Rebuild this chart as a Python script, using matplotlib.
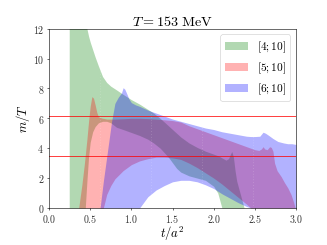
import numpy as np
import matplotlib
matplotlib.use("Agg")
import matplotlib.pyplot as plt

plt.rcParams['font.family'] = 'serif'
plt.rcParams['font.serif'] = ['cmr10', 'DejaVu Serif']
plt.rcParams['mathtext.fontset'] = 'cm'
plt.rcParams['axes.formatter.use_mathtext'] = True

# ---------------------------------------------------------------------------
# band [4;10] (green)
# ---------------------------------------------------------------------------
t_g = [0.245, 0.40, 0.44, 0.46, 0.48, 0.50, 0.53, 0.56, 0.60, 0.65, 0.70,
       0.75, 0.82, 0.90, 1.00, 1.10, 1.20, 1.27, 1.35, 1.45, 1.55, 1.60,
       1.70, 1.80, 1.90, 2.00, 2.05, 2.08, 2.10, 2.15, 2.18, 2.20, 2.22,
       2.24, 2.26, 2.28, 2.31, 2.34, 2.37]
hi_g = [14.0, 14.0, 12.6, 12.0, 11.5, 11.1, 10.6, 10.1, 9.5, 8.8, 8.4,
        8.15, 7.9, 7.6, 7.25, 6.95, 6.6, 6.35, 6.0, 5.5, 5.0, 4.75,
        4.35, 4.05, 3.8, 3.6, 3.5, 3.42, 3.35, 3.2, 3.3, 3.55, 3.78,
        3.4, 2.5, 1.8, 1.2, 0.6, 0.0]
lo_g = [0.0, 0.0, 0.0, 1.8, 3.4, 4.4, 5.1, 5.45, 5.7, 5.8, 5.8,
        5.7, 5.4, 5.25, 5.05, 4.85, 4.6, 4.35, 4.0, 3.4, 2.65, 2.4,
        2.15, 2.0, 1.85, 1.45, 1.0, 0.4, 0.0, 0.0, 0.0, 0.0, 0.0,
        0.0, 0.0, 0.0, 0.0, 0.0, 0.0]

# ---------------------------------------------------------------------------
# band [5;10] (red)
# ---------------------------------------------------------------------------
t_r = [0.36, 0.40, 0.43, 0.46, 0.48, 0.50, 0.52, 0.54, 0.56, 0.58, 0.60,
       0.65, 0.66, 0.70, 0.75, 0.80, 0.90, 1.00, 1.10, 1.20, 1.30, 1.40,
       1.50, 1.60, 1.70, 1.80, 1.90, 2.00, 2.10, 2.20, 2.30, 2.40, 2.45,
       2.50, 2.55, 2.58, 2.60, 2.62, 2.65, 2.68, 2.70, 2.72, 2.74, 2.77,
       2.82, 2.86, 2.90, 2.94, 2.97, 2.99]
hi_r = [0.0, 1.6, 3.0, 4.6, 5.8, 6.8, 7.45, 7.35, 6.9, 6.4, 6.1,
        6.0, 6.0, 5.95, 5.95, 5.95, 5.97, 6.0, 6.0, 5.98, 5.95, 5.9,
        5.85, 5.75, 5.5, 5.3, 5.1, 4.9, 4.7, 4.5, 4.3, 4.1, 4.0,
        3.9, 3.85, 3.95, 4.1, 3.95, 3.9, 4.1, 4.05, 3.8, 3.0, 2.5,
        2.1, 1.7, 1.35, 0.9, 0.4, 0.0]
lo_r = [0.0, 0.0, 0.0, 0.0, 0.0, 0.0, 0.0, 0.0, 0.0, 0.0, 0.0,
        0.0, 0.0, 0.9, 1.5, 1.95, 2.5, 2.9, 3.15, 3.3, 3.4, 3.4,
        3.35, 3.25, 3.0, 2.7, 2.35, 2.0, 1.6, 1.15, 0.7, 0.25, 0.0,
        0.0, 0.0, 0.0, 0.0, 0.0, 0.0, 0.0, 0.0, 0.0, 0.0, 0.0,
        0.0, 0.0, 0.0, 0.0, 0.0, 0.0]

# ---------------------------------------------------------------------------
# band [6;10] (blue)
# ---------------------------------------------------------------------------
t_b = [0.62, 0.66, 0.70, 0.73, 0.76, 0.80, 0.84, 0.88, 0.90, 0.92, 0.94,
       0.97, 1.00, 1.05, 1.10, 1.20, 1.30, 1.40, 1.50, 1.60, 1.70, 1.80,
       1.90, 2.00, 2.10, 2.20, 2.30, 2.40, 2.45, 2.50, 2.56, 2.60, 2.63,
       2.67, 2.72, 2.78, 2.85, 2.90, 2.95, 3.00]
hi_b = [0.0, 1.8, 3.4, 4.6, 5.8, 7.0, 7.4, 7.7, 8.05, 7.95, 7.7,
        7.3, 7.05, 6.9, 6.8, 6.55, 6.35, 6.15, 5.95, 5.8, 5.65, 5.5,
        5.35, 5.25, 5.1, 5.0, 4.9, 4.8, 4.78, 4.78, 4.8, 5.07, 5.0,
        4.85, 4.65, 4.45, 4.35, 4.3, 4.3, 4.25]
lo_b = [0.0, 0.0, 0.0, 0.0, 0.0, 0.0, 0.0, 0.0, 0.0, 0.0, 0.0,
        0.0, 0.0, 0.0, 0.0, 0.75, 1.2, 1.5, 1.75, 1.85, 1.85, 1.75,
        1.55, 1.3, 0.95, 0.65, 0.35, 0.1, 0.0, 0.0, 0.0, 0.0, 0.0,
        0.0, 0.0, 0.0, 0.0, 0.0, 0.0, 0.0]

labels = ['$[4;10]$', '$[5;10]$', '$[6;10]$']
colors = ['g', 'r', 'b']

ref_levels = [6.15, 3.48]
flow_marks = [0.615, 1.235, 1.855, 2.48]

fig = plt.figure(figsize=(6.4, 4.8), dpi=51.1)
ax = fig.add_axes([0.15, 0.151, 0.755, 0.731])

bands = [(t_g, lo_g, hi_g), (t_r, lo_r, hi_r), (t_b, lo_b, hi_b)]
for (t, lo, hi), c, lab in zip(bands, colors, labels):
    ax.fill_between(t, lo, hi, color=c, alpha=0.3, lw=0, label=lab)

for x in flow_marks:
    ax.axvline(x, color='w', ls=(0, (1, 4)), lw=0.8, alpha=0.45)
for y in ref_levels:
    ax.axhline(y, color='r', lw=1.3, alpha=0.8)

ax.set_xlim(0, 3)
ax.set_ylim(0, 12)
ax.set_xticks(np.arange(0, 3.01, 0.5))
ax.set_yticks(np.arange(0, 13, 2))
ax.tick_params(labelsize=14, labelcolor='#333333')
ax.set_xlabel('$t/a^2$', fontsize=18, labelpad=-1)
ax.set_ylabel('$m/T$', fontsize=18, labelpad=1)
ax.set_title(r'$T = 153\ \mathrm{MeV}$', fontsize=20, pad=3)
ax.legend(loc='upper right', fontsize=16)

fig.savefig('out.png', dpi=51.1)
